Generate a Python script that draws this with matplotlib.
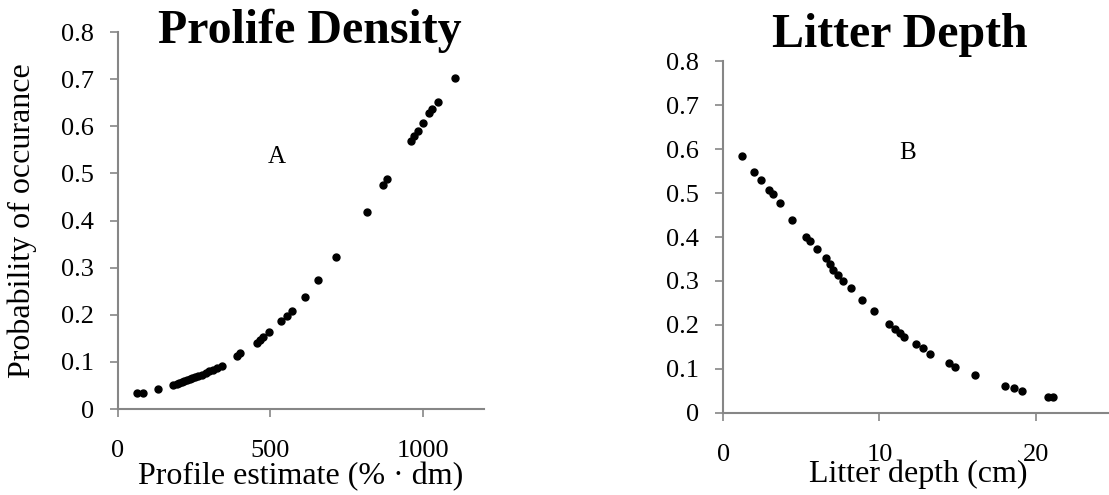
import matplotlib
matplotlib.use("Agg")
import matplotlib.pyplot as plt

plt.rcParams['font.family'] = ['Liberation Serif', 'DejaVu Serif']

# Panel A: profile estimate vs probability of occurance
profile_x = [61, 83, 132, 181, 192, 200, 210, 218, 226, 235, 243, 252, 262, 275, 288,
             300, 312, 326, 340, 389, 400, 455, 465, 475, 496, 536, 553, 569, 613, 657,
             715, 815, 870, 883, 961, 971, 983, 1001, 1020, 1031, 1050, 1105]
profile_y = [0.033, 0.035, 0.042, 0.051, 0.053, 0.055, 0.057, 0.059, 0.061, 0.063, 0.065,
             0.067, 0.070, 0.073, 0.077, 0.080, 0.083, 0.087, 0.092, 0.1125, 0.118, 0.141,
             0.147, 0.152, 0.164, 0.187, 0.197, 0.209, 0.238, 0.274, 0.323, 0.419, 0.476,
             0.488, 0.568, 0.579, 0.590, 0.607, 0.628, 0.637, 0.652, 0.702]

# Panel B: litter depth vs probability of occurance
litter_x = [1.19, 2.0, 2.43, 2.94, 3.18, 3.64, 4.43, 5.30, 5.56, 5.99, 6.58, 6.84, 7.05,
            7.37, 7.69, 8.16, 8.86, 9.65, 10.63, 10.99, 11.31, 11.57, 12.33, 12.76, 13.23,
            14.46, 14.82, 16.1, 18.02, 18.59, 19.09, 20.79, 21.07]
litter_y = [0.585, 0.548, 0.530, 0.507, 0.497, 0.477, 0.439, 0.401, 0.391, 0.372, 0.352,
            0.339, 0.325, 0.314, 0.301, 0.283, 0.257, 0.232, 0.2015, 0.190, 0.181, 0.173,
            0.157, 0.147, 0.134, 0.113, 0.104, 0.086, 0.062, 0.056, 0.051, 0.037, 0.037]

y_ticks = [0, 0.1, 0.2, 0.3, 0.4, 0.5, 0.6, 0.7, 0.8]
y_labels = ['0', '0.1', '0.2', '0.3', '0.4', '0.5', '0.6', '0.7', '0.8']

fig = plt.figure(figsize=(11.09, 4.95), dpi=100)
ax1 = fig.add_axes([0.1064, 0.1737, 0.330, 0.7616])
ax2 = fig.add_axes([0.652, 0.1657, 0.3526, 0.711])

gray = '#868686'


def style(ax):
    for s in ['top', 'right']:
        ax.spines[s].set_visible(False)
    for s in ['left', 'bottom']:
        ax.spines[s].set_color(gray)
        ax.spines[s].set_linewidth(1.5)
    ax.tick_params(axis='both', color=gray, width=1.2, length=5.5, labelsize=19)
    ax.tick_params(axis='x', pad=17)
    ax.tick_params(axis='y', pad=12)
    ax.set_yticks(y_ticks)
    ax.set_yticklabels(y_labels)
    ax.set_ylim(0, 0.8)


# Panel A
ax1.plot(profile_x, profile_y, 'o', color='black', markersize=5)
style(ax1)
ax1.set_xlim(0, 1200)
ax1.set_xticks([0, 500, 1000])
ax1.set_xlabel('Profile estimate (% \u00b7 dm)', fontsize=23, va='baseline')
ax1.xaxis.set_label_coords(0.5, -0.199)
ax1.set_ylabel('Probability of occurance', fontsize=23, va='center')
ax1.yaxis.set_label_coords(-0.262, 0.5)
ax1.text(521, 0.535, 'A', fontsize=18, ha='center', va='center')

# Panel B
ax2.plot(litter_x, litter_y, 'o', color='black', markersize=5)
style(ax2)
ax2.set_xlim(0, 25)
ax2.set_xticks([0, 10, 20])
ax2.set_xlabel('Litter depth (cm)', fontsize=23, va='baseline')
ax2.xaxis.set_label_coords(0.5, -0.196)
ax2.text(11.8, 0.59, 'B', fontsize=18, ha='center', va='center')

# titles sit partly inside the plot area, as in the original
fig.text(310 / 1109, 1 - 43 / 495, 'Prolife Density', fontsize=34.5,
         fontweight='bold', ha='center', va='baseline')
fig.text(900 / 1109, 1 - 47 / 495, 'Litter Depth', fontsize=34.5,
         fontweight='bold', ha='center', va='baseline')

fig.savefig('out.png', dpi=100)
